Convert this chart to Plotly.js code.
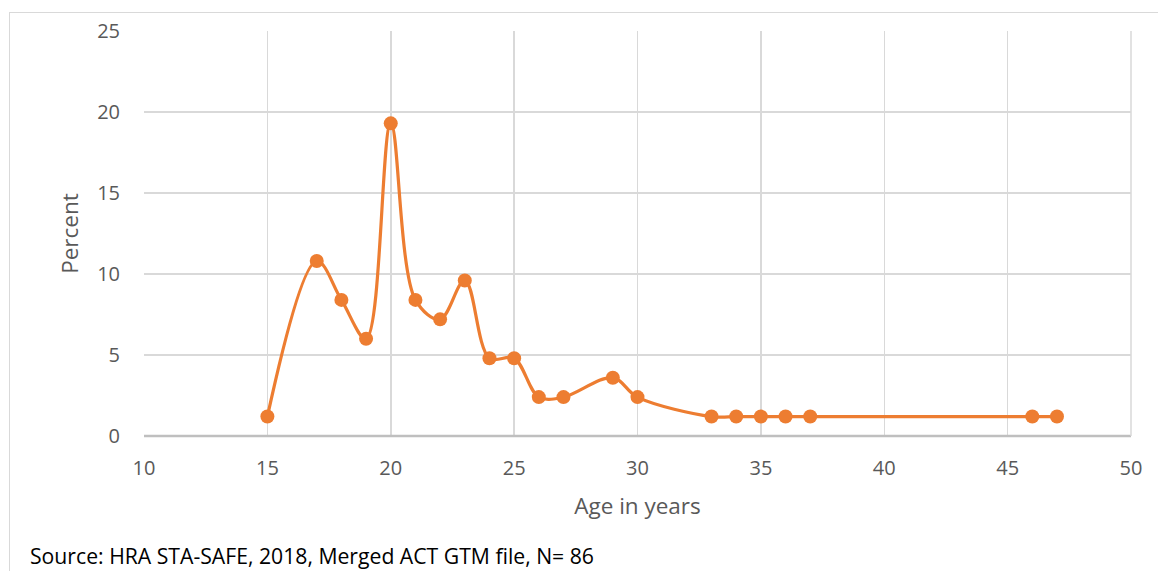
<!DOCTYPE html>
<html>
<head>
<meta charset="utf-8">
<script src="https://cdn.plot.ly/plotly-3.0.1.min.js"></script>
<style>
html,body{margin:0;padding:0;background:#fff;overflow:hidden;}
#frame{position:absolute;left:9px;top:12px;width:1300px;height:700px;border:1.5px solid #d9d9d9;box-sizing:border-box;}
#chart{position:absolute;left:0;top:0;width:1158px;height:571px;}
</style>
</head>
<body>
<div id="frame"></div>
<div id="chart"></div>
<script>
const ages = [15, 17, 18, 19, 20, 21, 22, 23, 24, 25, 26, 27, 29, 30, 33, 34, 35, 36, 37, 46, 47];
const percents = [1.2, 10.8, 8.4, 6.0, 19.3, 8.4, 7.2, 9.6, 4.8, 4.8, 2.4, 2.4, 3.6, 2.4, 1.2, 1.2, 1.2, 1.2, 1.2, 1.2, 1.2];
const xTicks = [10, 15, 20, 25, 30, 35, 40, 45, 50];
const yTicks = [0, 5, 10, 15, 20, 25];
const sourceText = "Source: HRA STA-SAFE, 2018, Merged ACT GTM file, N= 86";

const font = "Open Sans, sans-serif";
const trace = {
  x: ages, y: percents, type: 'scatter', mode: 'lines+markers',
  line: {color: '#ED7D31', width: 3.2, shape: 'spline', smoothing: 1},
  marker: {color: '#ED7D31', size: 14},
  cliponaxis: false, hoverinfo: 'skip'
};
const layout = {
  width: 1158, height: 571,
  margin: {l: 144, r: 27, t: 31, b: 135},
  paper_bgcolor: 'rgba(0,0,0,0)', plot_bgcolor: 'rgba(0,0,0,0)',
  showlegend: false,
  font: {family: font, color: '#595959', size: 20},
  xaxis: {
    range: [10, 50], tickvals: xTicks, ticktext: xTicks.map(String),
    showgrid: true, gridcolor: '#d9d9d9', gridwidth: 1.5,
    zeroline: false, showline: false,
    ticks: 'outside', ticklen: 14, tickcolor: 'rgba(0,0,0,0)',
    tickfont: {family: font, size: 20, color: '#595959'},
    title: {text: 'Age in years', font: {family: font, size: 22.5, color: '#595959'}, standoff: 18}
  },
  yaxis: {
    range: [0, 25], tickvals: yTicks, ticktext: yTicks.map(String),
    showgrid: true, gridcolor: '#d9d9d9', gridwidth: 1.5,
    zeroline: false, showline: false,
    ticks: 'outside', ticklen: 19, tickcolor: 'rgba(0,0,0,0)',
    tickfont: {family: font, size: 20, color: '#595959'},
    title: {text: 'Percent', font: {family: font, size: 22.5, color: '#595959'}, standoff: 12}
  },
  shapes: [
    {type: 'line', xref: 'paper', yref: 'paper', x0: 0, x1: 1, y0: 0, y1: 0,
     line: {color: '#bfbfbf', width: 2.5}},
    {type: 'line', xref: 'paper', yref: 'paper', x0: 1, x1: 1, y0: 0, y1: 1,
     line: {color: '#d9d9d9', width: 1.5}}
  ],
  annotations: [
    {text: sourceText, xref: 'paper', yref: 'paper', x: -0.1175, y: -0.294,
     xanchor: 'left', yanchor: 'middle', showarrow: false,
     font: {family: font, size: 21.2, color: '#000000'}}
  ]
};
Plotly.newPlot('chart', [trace], layout, {staticPlot: true, displayModeBar: false});
</script>
</body>
</html>
